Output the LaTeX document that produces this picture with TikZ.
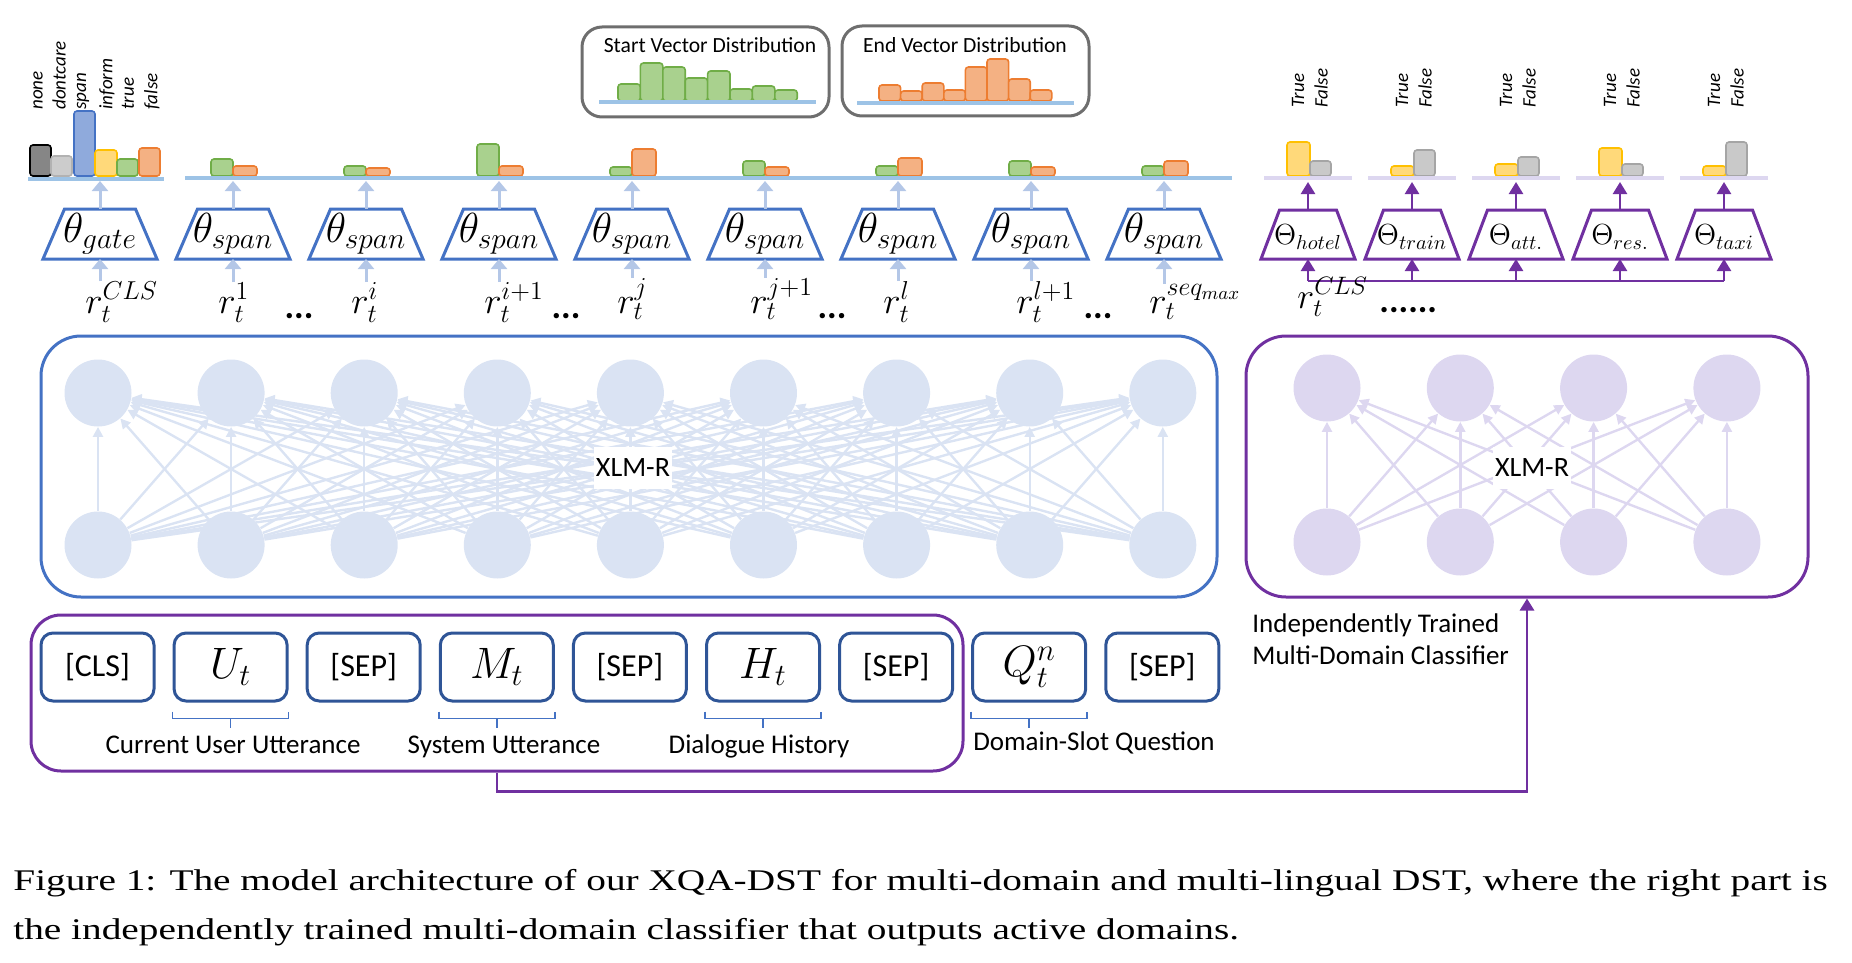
\RequirePackage{fix-cm}
\documentclass[tikz,border=0pt]{standalone}
\usepackage{fontspec}
\setsansfont{Carlito}
\newfontfamily\capfont[FakeStretch=1.31]{Liberation Serif}
\usepackage{tikz}
\usetikzlibrary{arrows.meta, calc}
\definecolor{xblue}{RGB}{68, 114, 196}
\definecolor{xdark}{RGB}{47, 85, 151}
\definecolor{xlight}{RGB}{180, 199, 231}
\definecolor{xline}{RGB}{157, 195, 230}
\definecolor{xcirc}{RGB}{218, 227, 243}
\definecolor{xpurple}{RGB}{112, 48, 160}
\definecolor{xlav}{RGB}{221, 215, 240}
\definecolor{xgreen}{RGB}{112, 173, 71}
\definecolor{xgreenf}{RGB}{169, 209, 142}
\definecolor{xorange}{RGB}{237, 125, 49}
\definecolor{xorangef}{RGB}{244, 177, 131}
\definecolor{xyellow}{RGB}{255, 192, 0}
\definecolor{xyellowf}{RGB}{255, 217, 122}
\definecolor{xgray}{RGB}{165, 165, 165}
\definecolor{xgrayf}{RGB}{201, 201, 201}
\definecolor{xframe}{RGB}{110, 110, 110}
\newcommand{\tokm}[1]{{\fontsize{22}{24}\selectfont$#1$}}

\begin{document}
\begin{tikzpicture}[x=0.5pt, y=-0.5pt,
  uparrow/.style={draw=xlight, line width=1.5pt, -{Triangle[width=8pt,length=5pt]}},
  parrow/.style={draw=xpurple, line width=1.2pt, -{Triangle[width=7pt,length=6pt]}},
  fcblue/.style={draw=xcirc, line width=1.2pt, -{Triangle[width=5pt,length=5pt]}},
  fcpurp/.style={draw=xlav, line width=1.2pt, -{Triangle[width=5pt,length=5pt]}},
  unit/.style={circle, minimum size=33.5pt, inner sep=0pt},
  token/.style={draw=xdark, line width=1.5pt, rounded corners=6pt, minimum width=56.5pt,
    minimum height=34pt, inner sep=0pt, font=\sffamily\fontsize{16}{18}\selectfont},
  gbar/.style={draw=xgreen, fill=xgreenf, line width=0.8pt, rounded corners=1.5pt},
  obar/.style={draw=xorange, fill=xorangef, line width=0.8pt, rounded corners=1.5pt},
  ybar/.style={draw=xyellow, fill=xyellowf, line width=0.8pt, rounded corners=1.5pt},
  kbar/.style={draw=xgray, fill=xgrayf, line width=0.8pt, rounded corners=1.5pt},
  sans/.style={font=\sffamily\fontsize{13.5}{16}\selectfont, inner sep=0pt},
  tag/.style={font=\sffamily\itshape\fontsize{9.5}{11}\selectfont, rotate=90, anchor=west, inner sep=0pt},
  brace/.style={draw=xblue, line width=0.8pt},
]
\useasboundingbox (0,0) rectangle (1852,963);

% distributions
\node[draw=xframe, line width=1.5pt, rounded corners=10pt, minimum width=123.5pt, minimum height=45pt] (startd) at (705.5,72) {};
\node[draw=xframe, line width=1.5pt, rounded corners=10pt, minimum width=123.5pt, minimum height=45pt] (endd) at (965.5,71) {};
\node[font=\sffamily\fontsize{10.8}{13}\selectfont, inner sep=0pt] (startt) at (710,45) {Start Vector Distribution};
\node[font=\sffamily\fontsize{10.8}{13}\selectfont, inner sep=0pt] (endt) at (965,45) {End Vector Distribution};
\foreach \h [count=\i from 0] in {17,38,34,23,30,12,15,11}
  \draw[gbar] ({618+22.4*\i},101) rectangle ({618+22.4*(\i+1)},{101-\h});
\foreach \h [count=\i from 0] in {16,10,18,11,34,42,22,11}
  \draw[obar] ({879+21.6*\i},101) rectangle ({879+21.6*(\i+1)},{101-\h});
\draw[xline, line width=2pt] (599,102) -- (816,102);
\draw[xline, line width=2pt] (857,103) -- (1074,103);

% gate output
\foreach \a/\b/\t/\f/\d in {30/51/145/gray!95/black, 51/72/156/gray!40/gray!60, 74/95/111/xblue!60/xblue,
  95/117/150/xyellowf/xyellow, 117/138/159/xgreenf/xgreen, 139/160/148/xorangef/xorange}
  \draw[fill=\f, draw=\d, line width=0.8pt, rounded corners=1.5pt] (\a,176) rectangle (\b,\t);
\draw[xline, line width=2pt] (28,179) -- (164,179);
\foreach \x/\t in {38/none, 59/dontcare, 83/span, 107/inform, 128/true, 152/false}
  \node[tag] at (\x,110) {\t};

% span outputs
\foreach \g/\o [count=\i] in {17/10, 10/8, 32/10, 9/27, 15/9, 10/18, 15/9, 10/15} {
  \draw[gbar] ({100+133*\i-22},176) rectangle ({100+133*\i},{176-\g});
  \draw[obar] ({100+133*\i},176) rectangle ({100+133*\i+24},{176-\o});
}
\draw[xline, line width=2pt] (185,178) -- (1232,178);

% heads
\foreach \i in {0,...,8} {
  \draw[xblue, line width=1.5pt, line join=miter] ({100+133*\i-57},259) -- ({100+133*\i-35.5},209)
    -- ({100+133*\i+35.5},209) -- ({100+133*\i+57},259) -- cycle;
  \coordinate (tt\i) at ({100+133*\i},209);
  \coordinate (tb\i) at ({100+133*\i},259);
  \coordinate (bl\i) at ({100+133*\i},181);
  \draw[uparrow] (tt\i) -- (bl\i);
}
\node[font=\fontsize{21}{23}\selectfont, inner sep=0pt] (th0) at (100,234) {$\theta_{gate}$};
\foreach \i in {1,...,8}
  \node[font=\fontsize{21}{23}\selectfont, inner sep=0pt] (th\i) at ({100+133*\i},234) {$\theta_{span}$};

% token representations
\foreach \s [count=\i from 0] in {CLS, 1, i, i+1, j, j+1, l, l+1, {seq_{max}}} {
  \node[font=\fontsize{18.5}{20}\selectfont, inner sep=0pt, anchor=base west] (r\i) at ({100+133*\i-15},313) {$r_t^{\s}$};
  \draw[uparrow] (tb\i |- r\i.north) -- (tb\i);
}
\foreach \x in {299, 566, 832, 1098}
  \node[font=\sffamily\bfseries\fontsize{18}{20}\selectfont, inner sep=0pt, anchor=base] at (\x,318) {...};

% domain outputs
\foreach \y/\g [count=\i from 0] in {34/15, 10/26, 12/19, 28/12, 10/34} {
  \draw[ybar] ({1308+104*\i-21},176) rectangle ({1308+104*\i+2},{176-\y});
  \draw[kbar] ({1308+104*\i+2},176) rectangle ({1308+104*\i+23},{176-\g});
  \draw[xlav, line width=2pt] ({1308+104*\i-44},178) -- ({1308+104*\i+44},178);
  \node[tag] at ({1308+104*\i-10},108) {True};
  \node[tag] at ({1308+104*\i+13},108) {False};
  \draw[xpurple, line width=1.5pt, line join=miter] ({1308+104*\i-47},259) -- ({1308+104*\i-28.5},210)
    -- ({1308+104*\i+28.5},210) -- ({1308+104*\i+47},259) -- cycle;
  \coordinate (pt\i) at ({1308+104*\i},210);
  \coordinate (pb\i) at ({1308+104*\i},259);
  \coordinate (pl\i) at ({1308+104*\i},182);
  \coordinate (pj\i) at ({1308+104*\i},281);
  \draw[parrow] (pt\i) -- (pl\i);
}
\foreach \d [count=\i from 0] in {hotel, train, att., res., taxi}
  \node[font=\fontsize{14.5}{16}\selectfont, inner sep=0pt] (dm\i) at ({1308+104*\i},237) {$\Theta_{\d}$};
\draw[xpurple, line width=1pt] (pj0) -- (pj4);
\foreach \i in {0,...,4}
  \draw[parrow] (pj\i) -- (pb\i);
\node[font=\fontsize{18}{20}\selectfont, inner sep=0pt, anchor=base west] (rc) at (1297,308) {$r_t^{CLS}$};
\node[font=\sffamily\bfseries\fontsize{18}{20}\selectfont, inner sep=0pt, anchor=base west] (rdots) at (1379,312) {......};

% XLM-R encoder
\node[draw=xblue, line width=1.5pt, rounded corners=20pt, minimum width=588pt, minimum height=130.5pt] (enc) at (629,466.5) {};
\foreach \i in {0,...,8} {
  \node[unit, fill=xcirc] (hi\i) at ({98+133.1*\i},393) {};
  \node[unit, fill=xcirc] (lo\i) at ({98+133.1*\i},545) {};
}
\foreach \a in {0,...,8}
  \foreach \b in {0,...,8}
    \draw[fcblue] (lo\a) -- (hi\b);
\node[fill=white, inner xsep=1pt, inner ysep=6pt, font=\sffamily\fontsize{14}{16}\selectfont] (xlmr) at (633,468) {XLM-R};

% classifier
\node[draw=xpurple, line width=1.5pt, rounded corners=20pt, minimum width=281pt, minimum height=130.5pt] (cls) at (1527,466.5) {};
\foreach \i in {0,...,3} {
  \node[unit, fill=xlav] (chi\i) at ({1327+133.3*\i},388) {};
  \node[unit, fill=xlav] (clo\i) at ({1327+133.3*\i},542) {};
}
\foreach \a in {0,...,3}
  \foreach \b in {0,...,3}
    \draw[fcpurp] (clo\a) -- (chi\b);
\node[fill=white, inner xsep=1pt, inner ysep=6pt, font=\sffamily\fontsize{14}{16}\selectfont] (cxlmr) at (1532,468) {XLM-R};
\node[sans, anchor=west, align=left] (clsname) at (1252,639) {Independently Trained\\Multi-Domain Classifier};

% input sequence
\node[draw=xpurple, line width=1.5pt, rounded corners=15pt, minimum width=466pt, minimum height=78pt] (inp) at (497,693) {};
\foreach \t [count=\i from 0] in {{[CLS]}, \tokm{U_t}, {[SEP]}, \tokm{M_t}, {[SEP]}, \tokm{H_t}, {[SEP]}, \tokm{Q_t^n}, {[SEP]}}
  \node[token] (tok\i) at ({97.5+133.1*\i},667) {\t};
\foreach \i in {1,3,5,7} {
  \draw[brace] ($(tok\i.south west)+(0,9)$) -- ++(0,7) -- ($(tok\i.south east)+(0,16)$) -- ++(0,-7);
  \draw[brace] ($(tok\i.south)+(0,16)$) -- ++(0,9);
}
\node[sans] (cuu) at (233,745) {Current User Utterance};
\node[sans] (su) at (504,747) {System Utterance};
\node[sans] (dh) at (759,746) {Dialogue History};
\node[sans] (dsq) at (1094,743) {Domain-Slot Question};
\draw[parrow, line width=1.4pt] (inp.south) -- ++(0,19) -| (cls.south);

% caption
\node[anchor=west, inner sep=0pt, font=\capfont\fontsize{15}{18}\selectfont] (cap1) at (13,883)
  {Figure 1: The model architecture of our XQA-DST for multi-domain and multi-lingual DST, where the right part is};
\node[anchor=west, inner sep=0pt, font=\capfont\fontsize{15}{18}\selectfont] (cap2) at (13,932)
  {the independently trained multi-domain classifier that outputs active domains.};
\end{tikzpicture}
\end{document}
